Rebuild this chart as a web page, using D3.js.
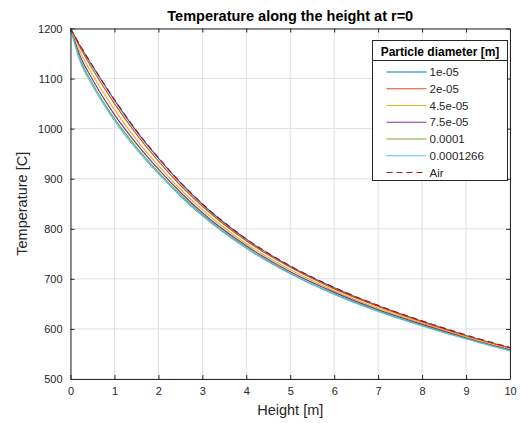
<!DOCTYPE html>
<html>
<head>
<meta charset="UTF-8">
<title>Temperature along the height</title>
<script src="https://d3js.org/d3.v7.min.js"></script>
<style>
body { margin: 0; background: #ffffff; }
svg { display: block; font-family: "Liberation Sans", Arial, sans-serif; }
</style>
</head>
<body>
<div id="chart"></div>
<script>
// sample heights [m]
var heights = [0, 0.2, 0.5, 1, 1.5, 2, 2.5, 3, 4, 5, 6, 7, 8, 9, 10];

// temperatures [C], one list per particle diameter
var t_1e5     = [1200, 1168, 1125, 1057, 995, 941, 892, 849, 779, 725, 682, 646, 615, 587, 562];
var t_2e5     = [1200, 1165, 1119, 1050, 989, 935, 887, 845, 776, 723, 680, 645, 614, 586, 562];
var t_45e5    = [1200, 1157, 1108, 1038, 978, 926, 879, 838, 770, 718, 676, 641, 611, 584, 559];
var t_75e5    = [1200, 1149, 1098, 1028, 970, 919, 873, 832, 766, 714, 673, 638, 609, 582, 558];
var t_1e4     = [1200, 1143, 1090, 1020, 963, 913, 868, 828, 763, 711, 670, 636, 607, 581, 557];
var t_1266e7  = [1200, 1139, 1086, 1016, 959, 910, 865, 826, 761, 710, 669, 635, 606, 580, 556];
var t_air     = [1200, 1169, 1126, 1058, 996, 942, 893, 850, 780, 726, 683, 647, 616, 588, 563];

var seriesNames = ["1e-05", "2e-05", "4.5e-05", "7.5e-05", "0.0001", "0.0001266", "Air"];
var seriesValues = [t_1e5, t_2e5, t_45e5, t_75e5, t_1e4, t_1266e7, t_air];
var seriesColors = ["#0072BD", "#D95319", "#EDB120", "#7E2F8E", "#77AC30", "#4DBEEE", "#A2142F"];
var seriesDash = [null, null, null, null, null, null, "6,4"];

var xTicks = [0, 1, 2, 3, 4, 5, 6, 7, 8, 9, 10];
var yTicks = [500, 600, 700, 800, 900, 1000, 1100, 1200];

var W = 523, H = 423;
var margin = {left: 70.5, right: 13, top: 28.5, bottom: 44};

var svg = d3.select("#chart").append("svg")
  .attr("width", W)
  .attr("height", H);

var x = d3.scaleLinear().domain([0, 10]).range([margin.left, W - margin.right]);
var y = d3.scaleLinear().domain([500, 1200]).range([H - margin.bottom, margin.top]);

var axisColor = "#262626";

// grid
var grid = svg.append("g");
grid.selectAll(".gx").data(xTicks).enter().append("line")
  .attr("x1", function(d){ return x(d); })
  .attr("x2", function(d){ return x(d); })
  .attr("y1", y(500)).attr("y2", y(1200))
  .attr("stroke", "#dfdfdf").attr("stroke-width", 1);
grid.selectAll(".gy").data(yTicks).enter().append("line")
  .attr("y1", function(d){ return y(d); })
  .attr("y2", function(d){ return y(d); })
  .attr("x1", x(0)).attr("x2", x(10))
  .attr("stroke", "#dfdfdf").attr("stroke-width", 1);

// curves
var line = d3.line()
  .x(function(d){ return x(d[0]); })
  .y(function(d){ return y(d[1]); })
  .curve(d3.curveMonotoneX);

seriesValues.forEach(function(vals, i){
  svg.append("path")
    .datum(heights.map(function(h, j){ return [h, vals[j]]; }))
    .attr("d", line)
    .attr("fill", "none")
    .attr("stroke", seriesColors[i])
    .attr("stroke-width", 1.15)
    .attr("stroke-dasharray", seriesDash[i]);
});

// axes (box with inward ticks on all sides)
var tickLen = 4;
var axB = d3.axisBottom(x).tickValues(xTicks).tickSizeInner(-tickLen).tickSizeOuter(0).tickPadding(8).tickFormat(d3.format("d"));
var axT = d3.axisTop(x).tickValues(xTicks).tickSizeInner(-tickLen).tickSizeOuter(0).tickFormat("");
var axL = d3.axisLeft(y).tickValues(yTicks).tickSizeInner(-tickLen).tickSizeOuter(0).tickPadding(8).tickFormat(d3.format("d"));
var axR = d3.axisRight(y).tickValues(yTicks).tickSizeInner(-tickLen).tickSizeOuter(0).tickFormat("");

function styleAxis(g){
  g.selectAll("path").attr("stroke", axisColor).attr("stroke-width", 1);
  g.selectAll("line").attr("stroke", axisColor);
  g.selectAll("text").attr("fill", axisColor).style("font-size", "11px")
    .style("font-family", "'Liberation Sans', Arial, sans-serif");
}

svg.append("g").attr("transform", "translate(0," + y(500) + ")").call(axB).call(styleAxis);
svg.append("g").attr("transform", "translate(0," + y(1200) + ")").call(axT).call(styleAxis);
svg.append("g").attr("transform", "translate(" + x(0) + ",0)").call(axL).call(styleAxis);
svg.append("g").attr("transform", "translate(" + x(10) + ",0)").call(axR).call(styleAxis);

// title and axis labels
svg.append("text")
  .attr("x", (x(0) + x(10)) / 2).attr("y", 20.5)
  .attr("text-anchor", "middle")
  .style("font-size", "14.5px").style("font-weight", "bold")
  .attr("fill", "#000")
  .text("Temperature along the height at r=0");

svg.append("text")
  .attr("x", (x(0) + x(10)) / 2).attr("y", 415)
  .attr("text-anchor", "middle")
  .style("font-size", "14.5px")
  .attr("fill", axisColor)
  .text("Height [m]");

svg.append("text")
  .attr("transform", "translate(27," + ((y(500) + y(1200)) / 2) + ") rotate(-90)")
  .attr("text-anchor", "middle")
  .style("font-size", "14.5px")
  .attr("fill", axisColor)
  .text("Temperature [C]");

// legend
var lg = svg.append("g").attr("transform", "translate(372.5,40.5)");
lg.append("rect")
  .attr("width", 135).attr("height", 140)
  .attr("fill", "#fff").attr("stroke", axisColor).attr("stroke-width", 1);
lg.append("text")
  .attr("x", 67.5).attr("y", 15.5)
  .attr("text-anchor", "middle")
  .style("font-size", "12px").style("font-weight", "bold")
  .attr("fill", "#000")
  .text("Particle diameter [m]");
lg.append("line")
  .attr("x1", 0).attr("x2", 135).attr("y1", 20).attr("y2", 20)
  .attr("stroke", axisColor).attr("stroke-width", 1);

var rowY = d3.scaleLinear().domain([0, 6]).range([31.5, 132]);
seriesNames.forEach(function(name, i){
  var ry = rowY(i);
  lg.append("line")
    .attr("x1", 14).attr("x2", 54).attr("y1", ry).attr("y2", ry)
    .attr("stroke", seriesColors[i]).attr("stroke-width", 1.15)
    .attr("stroke-dasharray", seriesDash[i]);
  lg.append("text")
    .attr("x", 57).attr("y", ry + 4)
    .style("font-size", "11.5px")
    .attr("fill", axisColor)
    .text(name);
});
</script>
</body>
</html>
